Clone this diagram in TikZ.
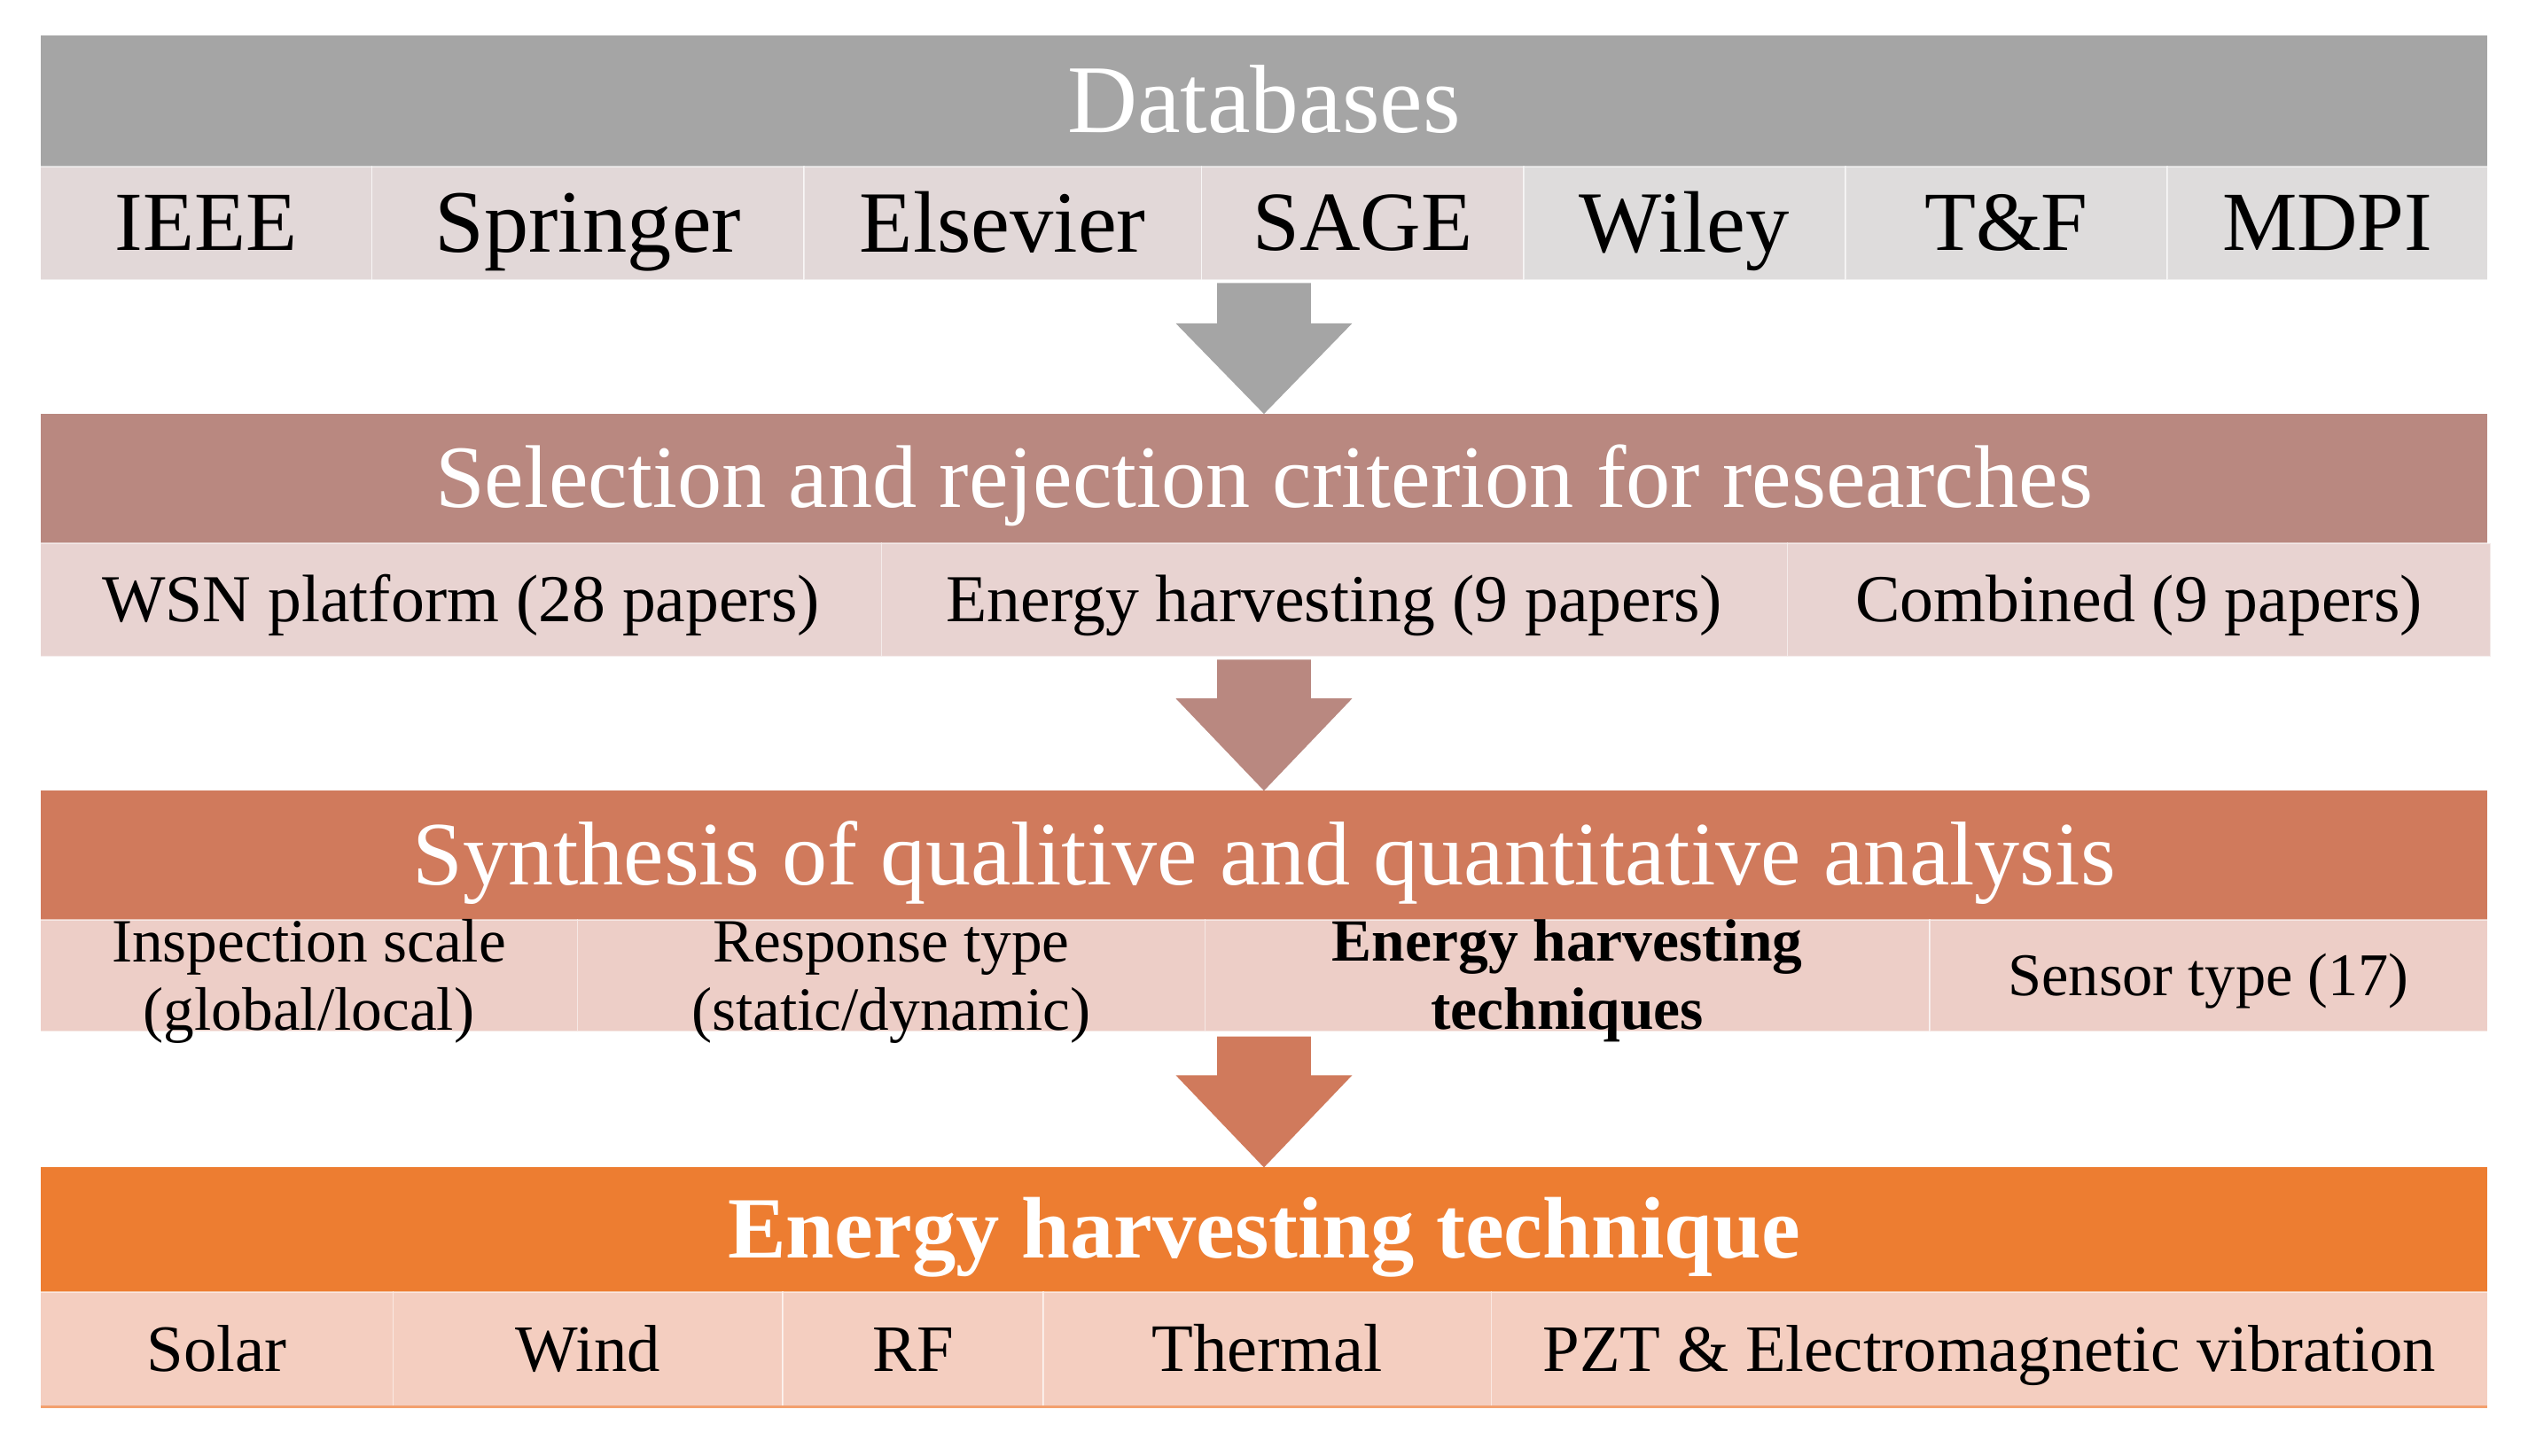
\documentclass[tikz,border=0pt]{standalone}
\usepackage{fontspec}
\setmainfont{Liberation Serif}
\usetikzlibrary{calc}
\definecolor{hgray}{HTML}{A5A5A5}
\definecolor{rowA}{HTML}{E2D8D8}
\definecolor{rowB}{HTML}{DEDCDC}
\definecolor{hrose}{HTML}{B98880}
\definecolor{rowrose}{HTML}{E8D3D1}
\definecolor{hterra}{HTML}{D07A5C}
\definecolor{rowterra}{HTML}{EDCEC7}
\definecolor{horange}{HTML}{ED7D31}
\definecolor{roworange}{HTML}{F4CEC0}
\definecolor{lineorange}{HTML}{F3A06E}
\newcommand{\fsz}[1]{\fontsize{#1}{#1}\selectfont}
\newcommand{\twoline}[2]{\vbox{\halign{\hfil##\hfil\cr #1\cr #2\cr}}}
\tikzset{
  cell/.style={anchor=north west, inner sep=0pt, outer sep=0pt, text=black,
    draw=white, draw opacity=0.55, line width=0.8pt},
  header/.style={anchor=north west, inner sep=0pt, outer sep=0pt, text=white, minimum width=1513pt},
  fs/.style={font=\fsz{#1}, text height={0.655*#1pt}, text depth=0pt},
  fsb/.style={font=\fsz{#1}\bfseries, text height={0.655*#1pt}, text depth=0pt},
  twol/.style={font=\fontsize{#1}{42}\selectfont, text height={0.655*#1pt+42pt}, text depth=0pt},
  twolb/.style={font=\fontsize{#1}{42}\selectfont\bfseries, text height={0.655*#1pt+42pt}, text depth=0pt},
}
\begin{document}
\begin{tikzpicture}[x=1pt,y=-1pt]
\useasboundingbox[fill=white] (0,0) rectangle (1568,900);
% ---------- Block 1
\node[header, fill=hgray, minimum height=81pt, fs=60] (H1) at (25,22) {Databases};
\node[cell, fill=rowA, minimum width=205pt, minimum height=70pt, fs=52] (p1) at (25,103) {IEEE};
\node[cell, fill=rowA, minimum width=267pt, minimum height=70pt, fs=55] (p2) at (230,103) {Springer};
\node[cell, fill=rowA, minimum width=246pt, minimum height=70pt, fs=54] (p3) at (497,103) {Elsevier};
\node[cell, fill=rowA, minimum width=199pt, minimum height=70pt, fs=52] (p4) at (743,103) {SAGE};
\node[cell, fill=rowB, minimum width=199pt, minimum height=70pt, fs=54] (p5) at (942,103) {Wiley};
\node[cell, fill=rowB, minimum width=199pt, minimum height=70pt, fs=52] (p6) at (1141,103) {T\&F};
\node[cell, fill=rowB, minimum width=198pt, minimum height=70pt, fs=52] (p7) at (1340,103) {MDPI};
% ---------- Block 2
\node[header, fill=hrose, minimum height=80pt, fs=55] (H2) at (25,256) {Selection and rejection criterion for researches};
\node[cell, fill=rowrose, minimum width=520pt, minimum height=70pt, fs=41.5] (s1) at (25,336) {WSN platform (28 papers)};
\node[cell, fill=rowrose, minimum width=560pt, minimum height=70pt, fs=41.5] (s2) at (545,336) {Energy harvesting (9 papers)};
\node[cell, fill=rowrose, minimum width=435pt, minimum height=70pt, fs=41.5] (s3) at (1105,336) {Combined (9 papers)};
% ---------- Block 3
\node[header, fill=hterra, minimum height=80pt, fs=56] (H3) at (25,489) {Synthesis of qualitive and quantitative analysis};
\node[cell, fill=rowterra, minimum width=332pt, minimum height=69pt, twol=38] (q1) at (25,569) {\twoline{Inspection scale}{(global/local)}};
\node[cell, fill=rowterra, minimum width=388pt, minimum height=69pt, twol=38] (q2) at (357,569) {\twoline{Response type}{(static/dynamic)}};
\node[cell, fill=rowterra, minimum width=448pt, minimum height=69pt, twolb=37] (q3) at (745,569) {\twoline{Energy harvesting}{techniques}};
\node[cell, fill=rowterra, minimum width=345pt, minimum height=69pt, fs=37.5] (q4) at (1193,569) {Sensor type (17)};
% ---------- Block 4
\node[header, fill=horange, minimum height=77pt, fsb=54] (H4) at (25,722) {Energy harvesting technique};
\node[cell, fill=roworange, minimum width=218pt, minimum height=71pt, fs=41] (e1) at (25,799) {Solar};
\node[cell, fill=roworange, minimum width=241pt, minimum height=71pt, fs=41] (e2) at (243,799) {Wind};
\node[cell, fill=roworange, minimum width=161pt, minimum height=71pt, fs=41] (e3) at (484,799) {RF};
\node[cell, fill=roworange, minimum width=277pt, minimum height=71pt, fs=42] (e4) at (645,799) {Thermal};
\node[cell, fill=roworange, minimum width=616pt, minimum height=71pt, fs=41] (e5) at (922,799) {PZT \& Electromagnetic vibration};
\draw[lineorange, line width=2pt] (e1.south west) -- (e5.south east);
% ---------- Arrows
\coordinate (a1) at (781.5,175);
\coordinate (a2) at (781.5,408);
\coordinate (a3) at (781.5,641);
\fill[hgray] ($(a1)+(-29,0)$) -- ++(0,25) -- ++(-25.5,0) -- (H2.north) -- ($(a1)+(54.5,25)$) -- ++(-25.5,0) -- ($(a1)+(29,0)$) -- cycle;
\fill[hrose] ($(a2)+(-29,0)$) -- ++(0,24) -- ++(-25.5,0) -- (H3.north) -- ($(a2)+(54.5,24)$) -- ++(-25.5,0) -- ($(a2)+(29,0)$) -- cycle;
\fill[hterra] ($(a3)+(-29,0)$) -- ++(0,24) -- ++(-25.5,0) -- (H4.north) -- ($(a3)+(54.5,24)$) -- ++(-25.5,0) -- ($(a3)+(29,0)$) -- cycle;
\end{tikzpicture}
\end{document}
